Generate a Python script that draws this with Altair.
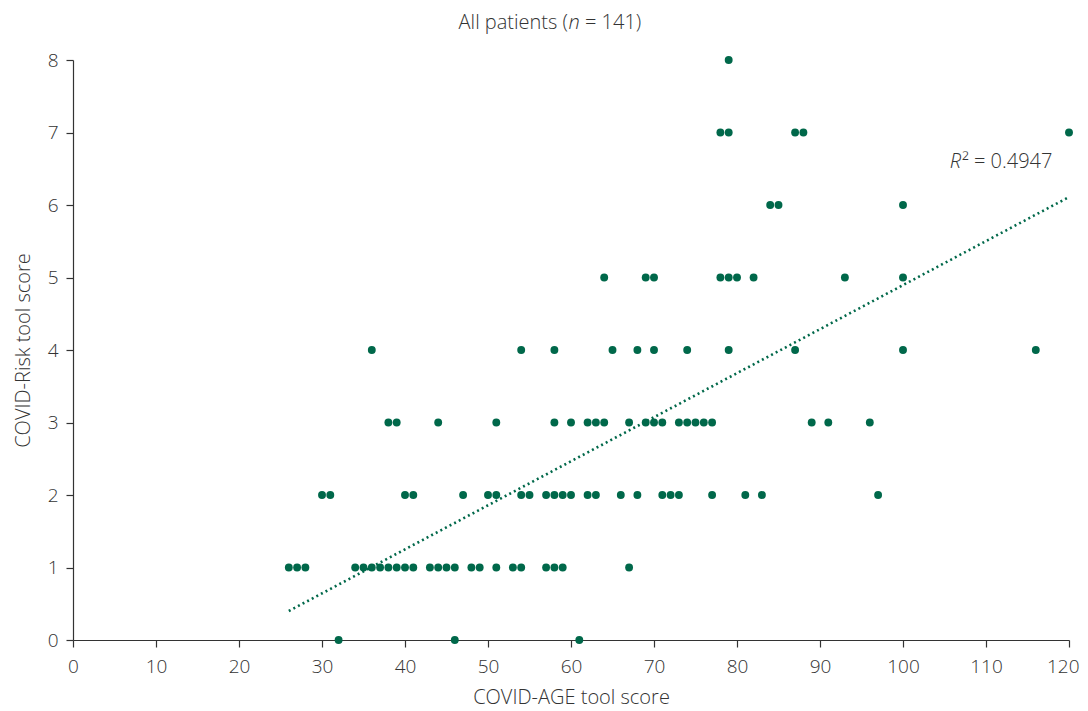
import altair as alt
import pandas as pd

# COVID-AGE tool score (x) for each visible point, grouped by COVID-Risk score (y)
risk0 = [32, 46, 61]
risk1 = [26, 27, 28, 34, 35, 36, 37, 38, 39, 40, 41, 43, 44, 45, 46, 48, 49, 51, 53, 54, 57, 58, 59, 67]
risk2 = [30, 31, 40, 41, 47, 50, 51, 54, 55, 57, 58, 59, 60, 62, 63, 66, 68, 71, 72, 73, 77, 81, 83, 97]
risk3 = [38, 39, 44, 51, 58, 60, 62, 63, 64, 67, 69, 70, 71, 73, 74, 75, 76, 77, 89, 91, 96]
risk4 = [36, 54, 58, 65, 68, 70, 74, 79, 87, 100, 116]
risk5 = [64, 69, 70, 78, 79, 80, 82, 93, 100]
risk6 = [84, 85, 100]
risk7 = [78, 79, 87, 88, 120]
risk8 = [79]

groups = [risk0, risk1, risk2, risk3, risk4, risk5, risk6, risk7, risk8]
covid_age = []
covid_risk = []
for level, xs in enumerate(groups):
    covid_age += xs
    covid_risk += [level] * len(xs)

# Linear trend line endpoints
trend_x = [26, 120]
trend_y = [0.40, 6.11]

x_ticks = list(range(0, 121, 10))
y_ticks = list(range(0, 9))

GREEN = "#00684A"
FONT = "Open Sans"
TXT = "#333333"

pts = pd.DataFrame({"age": covid_age, "risk": covid_risk})
trend = pd.DataFrame({"age": trend_x, "risk": trend_y})

xs = alt.Scale(domain=[0, 120], nice=False, zero=True)
ys = alt.Scale(domain=[0, 8], nice=False, zero=True)

xaxis = alt.Axis(values=x_ticks, title="COVID-AGE tool score", grid=False,
                 tickSize=7, labelPadding=10, titlePadding=11, format="d",
                 labelFlush=False,
                 labelAlign=alt.condition("datum.value == 120", alt.value("right"), alt.value("center")),
                 labelOffset=alt.condition("datum.value == 120", alt.value(10), alt.value(0)))
yaxis = alt.Axis(values=y_ticks, title="COVID-Risk tool score", grid=False,
                 tickSize=7, labelPadding=8, titlePadding=14, format="d",
                 labelFlush=False)

points = alt.Chart(pts).mark_circle(size=62, color=GREEN, opacity=1).encode(
    x=alt.X("age:Q", scale=xs, axis=xaxis),
    y=alt.Y("risk:Q", scale=ys, axis=yaxis),
)

line = alt.Chart(trend).mark_line(color=GREEN, strokeDash=[2, 3.2], strokeWidth=2.6).encode(
    x=alt.X("age:Q", scale=xs),
    y=alt.Y("risk:Q", scale=ys),
)

def label(text, x, y, align, italic=False):
    return alt.Chart(pd.DataFrame({"t": [text]})).mark_text(
        align=align, baseline="middle", font=FONT, fontSize=20, fontWeight=300,
        fontStyle="italic" if italic else "normal", color=TXT,
    ).encode(text="t:N", x=alt.value(x), y=alt.value(y))

title_parts = (
    label("All patients (", 495, -37, "right")
    + label("n", 501, -37, "center", italic=True)
    + label("= 141)", 512, -37, "left")
)
r2 = label("R", 888, 102, "right", italic=True) + label("² = 0.4947", 889, 102, "left")

chart = alt.layer(points, line, title_parts, r2).properties(
    width=996, height=580,
    autosize=alt.AutoSizeParams(type="none"),
    padding={"left": 65, "top": 52, "right": 11, "bottom": 68},
).configure_view(stroke=None).configure_axis(
    labelFont=FONT, titleFont=FONT, labelFontSize=19, titleFontSize=20,
    labelFontWeight=300, titleFontWeight=300, labelColor=TXT, titleColor=TXT,
    domainColor="#333333", tickColor="#333333", domainWidth=1.2, tickWidth=1.2,
)

chart.save("out.html", embed_options={"renderer": "svg", "actions": False})
